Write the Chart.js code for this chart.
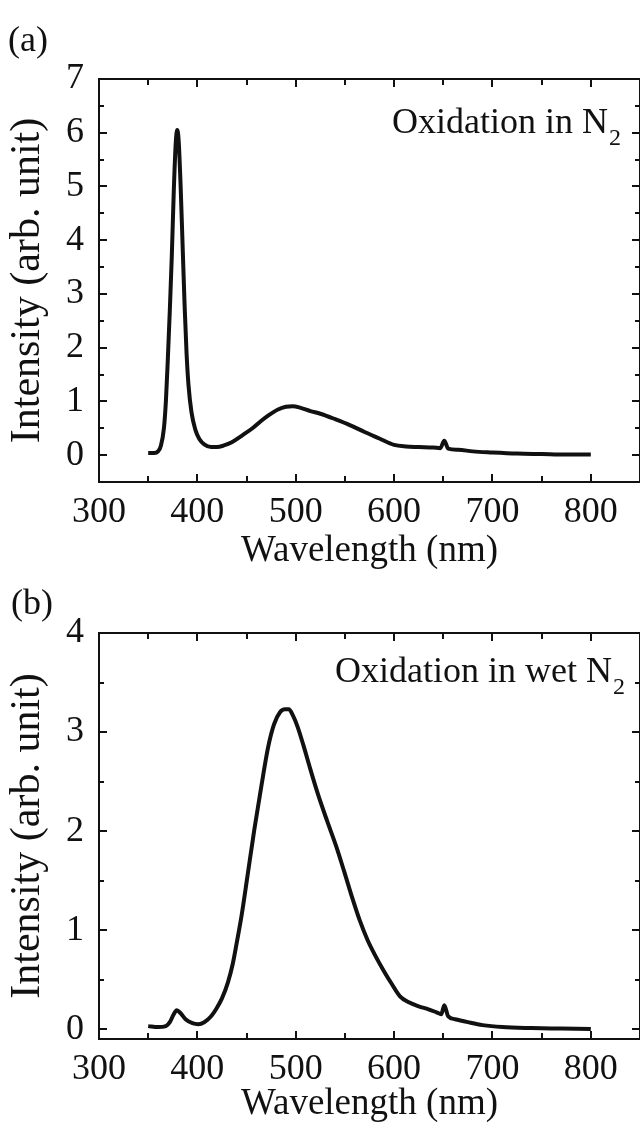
<!DOCTYPE html>
<html>
<head>
<meta charset="utf-8">
<script src="https://cdn.jsdelivr.net/npm/chart.js@4.4.0/dist/chart.umd.min.js"></script>
<style>
  html, body { margin: 0; padding: 0; background: #fff; overflow: hidden; }
  #wrap { position: relative; width: 640px; height: 1128px; }
  canvas { position: absolute; left: 0; }
  #chartA { top: 0; }
  #chartB { top: 575px; }
</style>
</head>
<body>
<div id="wrap">
  <canvas id="chartA" width="640" height="575"></canvas>
  <canvas id="chartB" width="640" height="553"></canvas>
</div>
<script>
// (a) oxidation in N2
const wavelengthA = [350, 356, 360, 363, 366, 368, 370, 372, 374, 376, 378, 379.5, 381, 383, 385, 387, 389, 391, 394, 398,
  402, 407, 414, 420, 427, 435, 445, 456, 465, 473, 482, 490, 497, 505, 515, 525, 540, 555, 570, 585,
  600, 612, 625, 640, 647, 651, 655, 665, 680, 700, 725, 750, 775, 800];
const intensityA = [0.04, 0.04, 0.07, 0.18, 0.5, 1.0, 1.8, 2.7, 3.7, 4.9, 5.8, 6.05, 5.85, 5.0, 3.9, 2.8, 1.9, 1.3, 0.8, 0.47,
  0.3, 0.2, 0.15, 0.15, 0.18, 0.24, 0.36, 0.5, 0.64, 0.75, 0.85, 0.9, 0.91, 0.88, 0.82, 0.77, 0.67, 0.56, 0.43, 0.31,
  0.19, 0.16, 0.15, 0.14, 0.13, 0.27, 0.12, 0.10, 0.07, 0.05, 0.03, 0.02, 0.01, 0.01];

// (b) oxidation in wet N2
const wavelengthB = [350, 360, 368, 372, 376, 379, 383, 388, 395, 401, 407, 414, 419, 425, 431, 436, 440, 445, 451, 458,
  465, 472, 478, 484, 489, 493, 497, 502, 508, 515, 523, 532, 541, 549, 557, 565, 573, 581, 590, 598,
  606, 615, 625, 635, 643, 648, 651, 655, 662, 675, 690, 710, 740, 770, 800];
const intensityB = [0.03, 0.02, 0.03, 0.07, 0.15, 0.19, 0.16, 0.1, 0.06, 0.05, 0.07, 0.13, 0.2, 0.31, 0.47, 0.66, 0.87, 1.15, 1.55, 2.02,
  2.45, 2.85, 3.08, 3.2, 3.23, 3.23, 3.17, 3.05, 2.86, 2.62, 2.36, 2.1, 1.85, 1.6, 1.34, 1.1, 0.9, 0.74, 0.58, 0.45,
  0.33, 0.27, 0.23, 0.2, 0.17, 0.15, 0.24, 0.13, 0.1, 0.07, 0.04, 0.02, 0.01, 0.005, 0.0];

const xTicks = [300, 400, 500, 600, 700, 800];
const yTicksA = [0, 1, 2, 3, 4, 5, 6, 7];
const yTicksB = [0, 1, 2, 3, 4];

const serif = '"Liberation Serif", "Times New Roman", serif';
const ink = '#111';

// frame, inward ticks, panel letter and label
const framePlugin = {
  id: 'frame',
  afterDraw(chart, args, opts) {
    const ctx = chart.ctx;
    const a = chart.chartArea;
    const xs = chart.scales.x, ys = chart.scales.y;
    ctx.save();
    ctx.strokeStyle = ink;
    ctx.lineWidth = 2;
    ctx.strokeRect(a.left, a.top, a.right - a.left, a.bottom - a.top);

    ctx.beginPath();
    for (let v = xs.min + 50; v < xs.max; v += 50) {
      const px = Math.round(xs.getPixelForValue(v));
      const len = v % 100 === 0 ? 8 : 6;
      ctx.moveTo(px, a.bottom); ctx.lineTo(px, a.bottom - len);
      ctx.moveTo(px, a.top); ctx.lineTo(px, a.top + len);
    }
    for (let v = Math.ceil(ys.min * 2) / 2; v < ys.max; v += 0.5) {
      if (v <= ys.min) continue;
      const py = Math.round(ys.getPixelForValue(v));
      const len = Number.isInteger(v) ? 8 : 5;
      ctx.moveTo(a.left, py); ctx.lineTo(a.left + len, py);
      ctx.moveTo(a.right, py); ctx.lineTo(a.right - len, py);
    }
    ctx.stroke();

    ctx.fillStyle = ink;
    ctx.textBaseline = 'middle';
    ctx.textAlign = 'left';
    ctx.font = '36px ' + serif;
    ctx.fillText(opts.letter, opts.letterX, opts.letterY);

    // label with subscript 2
    ctx.textBaseline = 'alphabetic';
    ctx.font = '24px ' + serif;
    const subW = ctx.measureText('2').width;
    ctx.textAlign = 'right';
    ctx.fillText('2', opts.labelRight, opts.labelY + 12);
    ctx.font = '36px ' + serif;
    ctx.fillText(opts.label, opts.labelRight - subW - 1, opts.labelY);
    ctx.restore();
  }
};

function makeChart(id, xs, ys, yMin, yMax, yTicks, padTop, xHeight, frameOpts) {
  const pts = xs.map((x, i) => ({ x: x, y: ys[i] }));
  return new Chart(document.getElementById(id), {
    type: 'line',
    data: {
      datasets: [{
        data: pts,
        borderColor: ink,
        borderWidth: 4,
        pointRadius: 0,
        fill: false,
        cubicInterpolationMode: 'monotone'
      }]
    },
    options: {
      responsive: false,
      animation: false,
      devicePixelRatio: 1,
      layout: { padding: { top: padTop, left: 0, right: 0, bottom: 0 } },
      plugins: {
        legend: { display: false },
        tooltip: { enabled: false },
        frame: frameOpts
      },
      scales: {
        x: {
          type: 'linear',
          min: 300,
          max: 850,
          grid: { display: false },
          border: { display: false },
          afterBuildTicks: s => { s.ticks = xTicks.map(v => ({ value: v })); },
          afterFit: s => { s.height = xHeight; },
          ticks: {
            color: ink, padding: 5, maxRotation: 0, autoSkip: false,
            font: { family: serif, size: 36, lineHeight: 1 }
          },
          title: {
            display: true, text: 'Wavelength (nm)', color: ink,
            font: { family: serif, size: 37, lineHeight: 1 },
            padding: { top: 0, bottom: 5 }
          }
        },
        y: {
          min: yMin,
          max: yMax,
          grid: { display: false },
          border: { display: false },
          afterBuildTicks: s => { s.ticks = yTicks.map(v => ({ value: v })); },
          afterFit: s => { s.width = 99; },
          ticks: {
            color: ink, padding: 7,
            font: { family: serif, size: 36, lineHeight: 1 }
          },
          title: {
            display: true, text: 'Intensity (arb. unit)', color: ink,
            font: { family: serif, size: 42, lineHeight: 1 },
            padding: { top: 7, bottom: 0 }
          }
        }
      }
    },
    plugins: [framePlugin]
  });
}

makeChart('chartA', wavelengthA, intensityA, -0.5, 7, yTicksA, 79, 93,
  { letter: '(a)', letterX: 8, letterY: 42, label: 'Oxidation in N', labelRight: 621, labelY: 133 });
makeChart('chartB', wavelengthB, intensityB, -0.1, 4, yTicksB, 58, 89,
  { letter: '(b)', letterX: 11, letterY: 30, label: 'Oxidation in wet N', labelRight: 625, labelY: 107 });
</script>
</body>
</html>
